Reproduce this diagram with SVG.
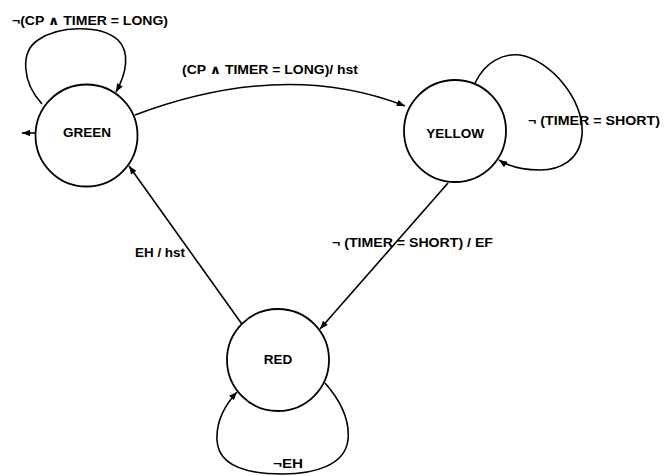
<svg xmlns="http://www.w3.org/2000/svg" width="665" height="476" viewBox="0 0 665 476">
  <style>
    .state { fill: #ffffff; stroke: #000000; stroke-width: 1.8; }
    .edge { fill: none; stroke: #000000; stroke-width: 1.6; }
    .name { font-family: "Liberation Sans", Arial, sans-serif; font-weight: bold; font-size: 13.5px; text-anchor: middle; fill: #000000; }
    .lbl { font-family: "Liberation Sans", "DejaVu Sans", Arial, sans-serif; font-weight: bold; font-size: 12.5px; fill: #000000; }
  </style>
  <defs>
    <marker id="arrow" viewBox="0 0 10 8" refX="10" refY="4" markerWidth="10" markerHeight="6.5" markerUnits="userSpaceOnUse" orient="auto">
      <path d="M0,0 L10,4 L0,8 Z" fill="#000000"/>
    </marker>
  </defs>
  <rect width="665" height="476" fill="#ffffff"/>

  <!-- transitions -->
  <g id="connectors">
    <!-- initial state marker -->
    <line class="edge" x1="36" y1="133" x2="22" y2="133" stroke-width="2" marker-end="url(#arrow)"/>
    <!-- GREEN self loop -->
    <path class="edge" d="M42,104 C 22,82 20,52 38,40 C 58,26 100,24 118,40 C 130,52 127,72 116,92" marker-end="url(#arrow)"/>
    <!-- GREEN to YELLOW -->
    <path class="edge" d="M135,115 Q 284,59 405,106" marker-end="url(#arrow)"/>
    <!-- YELLOW self loop -->
    <path class="edge" d="M475,83 C 485,62 503,53 520,55 C 550,60 585,100 582,135 C 580,160 560,170 540,170 C 520,170 508,166 499,160" marker-end="url(#arrow)"/>
    <!-- YELLOW to RED -->
    <line class="edge" x1="448" y1="183" x2="320" y2="329" marker-end="url(#arrow)"/>
    <!-- RED to GREEN -->
    <line class="edge" x1="244" y1="327" x2="129" y2="166" marker-end="url(#arrow)"/>
    <!-- RED self loop -->
    <path class="edge" d="M325,383 C 340,400 350,420 348,440 C 345,465 315,474 283,474 C 245,474 218,465 217,440 C 216,420 225,405 237,392" marker-end="url(#arrow)"/>
  </g>

  <g id="labels">
    <text class="lbl" x="12" y="25" textLength="156" lengthAdjust="spacingAndGlyphs">¬(CP ∧ TIMER = LONG)</text>
    <text class="lbl" x="182" y="74" textLength="176" lengthAdjust="spacingAndGlyphs">(CP ∧ TIMER = LONG)/ hst</text>
    <text class="lbl" x="528" y="125" textLength="132" lengthAdjust="spacingAndGlyphs">¬ (TIMER = SHORT)</text>
    <text class="lbl" x="332" y="247" textLength="161" lengthAdjust="spacingAndGlyphs">¬ (TIMER = SHORT) / EF</text>
    <text class="lbl" x="135" y="257" textLength="50" lengthAdjust="spacingAndGlyphs">EH / hst</text>
    <text class="lbl" x="273" y="468" textLength="30" lengthAdjust="spacingAndGlyphs">¬EH</text>
  </g>

  <g id="GREEN">
    <circle class="state" cx="86.5" cy="135.5" r="51"/>
    <text class="name" x="87" y="137">GREEN</text>
  </g>
  <g id="YELLOW">
    <circle class="state" cx="455" cy="131" r="51"/>
    <text class="name" x="455" y="138">YELLOW</text>
  </g>
  <g id="RED">
    <circle class="state" cx="278" cy="360" r="51"/>
    <text class="name" x="278" y="364">RED</text>
  </g>
</svg>
